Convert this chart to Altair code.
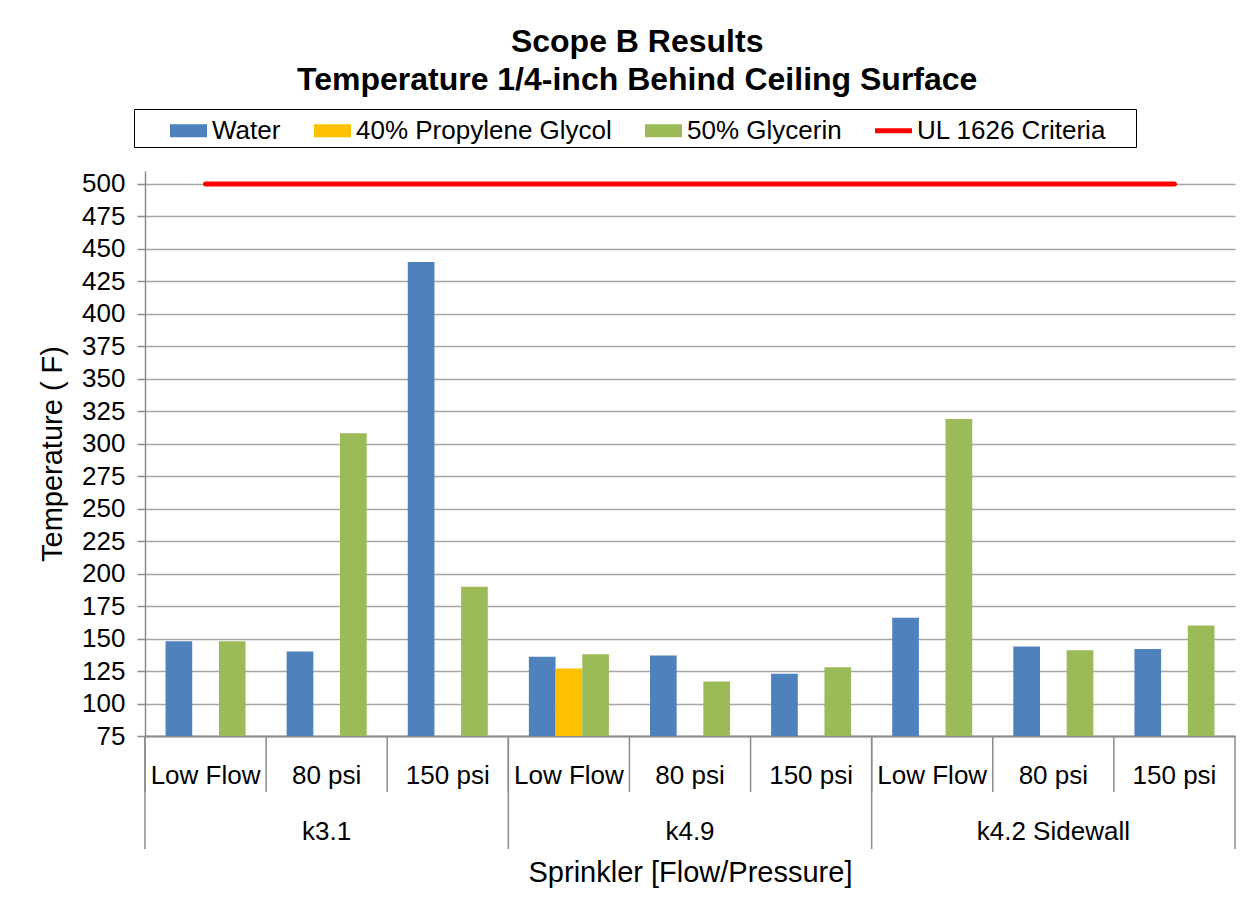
import altair as alt
import pandas as pd

# ---------------- data ----------------
groups = ["k3.1", "k4.9", "k4.2 Sidewall"]
subcats = ["Low Flow", "80 psi", "150 psi"]
series = ["Water", "40% Propylene Glycol", "50% Glycerin"]
criteria_label = "UL 1626 Criteria"

water = [148, 140, 440, 136, 137, 123, 166, 144, 142]
propylene = [None, None, None, 127, None, None, None, None, None]
glycerin = [148, 308, 190, 138, 117, 128, 319, 141, 160]
criteria = [500, 500, 500, 500, 500, 500, 500, 500, 500]

y_ticks = [75, 100, 125, 150, 175, 200, 225, 250, 275, 300, 325, 350, 375,
           400, 425, 450, 475, 500]
y_min, y_max = 75, 510

colors = ["#4F81BD", "#FFC000", "#9BBB59", "#FF0000"]

# ---------------- tables ----------------
cats = [f"{g}|{s}" for g in groups for s in subcats]

rows = []
for i, c in enumerate(cats):
    for name, vals in zip(series, [water, propylene, glycerin]):
        if vals[i] is not None:
            rows.append({"cat": c, "series": name, "value": vals[i]})
df_bars = pd.DataFrame(rows)
df_line = pd.DataFrame({"cat": cats, "value": criteria})
df_cats = pd.DataFrame({"cat": cats})
df_gstart = pd.DataFrame({"cat": [f"{g}|{subcats[0]}" for g in groups]})
df_gend = pd.DataFrame({"cat": [cats[-1]]})
df_glabel = pd.DataFrame({"cat": [f"{g}|{subcats[1]}" for g in groups], "grp": groups})

W, H = 1090, 565
FONT = "Liberation Sans"
GRAY = "#8C8C8C"

xscale = alt.Scale(domain=cats, paddingInner=0, paddingOuter=0)
yscale = alt.Scale(domain=[y_min, y_max], nice=False, zero=False)

x_axis = alt.Axis(
    labelExpr="split(datum.value, '|')[1]",
    labelAngle=0, labelFontSize=26, labelFont=FONT, labelColor="black",
    labelPadding=26, ticks=False, domainColor=GRAY, domainWidth=2,
    labelOverlap=False,
    title="Sprinkler [Flow/Pressure]", titleFontSize=29, titleFont=FONT,
    titleFontWeight="normal", titleColor="black", titleY=145,
    titleBaseline="alphabetic",
)
y_axis = alt.Axis(
    values=y_ticks, tickCount=len(y_ticks) + 2,
    labelFontSize=26, labelFont=FONT, labelColor="black",
    labelOverlap=False,
    tickSize=8, tickColor=GRAY, tickWidth=1.5, domainColor=GRAY, domainWidth=1.5,
    gridColor="#A6A6A6", gridWidth=1.5, labelPadding=12,
    title="Temperature ( F)", titleFontSize=29, titleFont=FONT,
    titleFontWeight="normal", titleColor="black", titlePadding=14,
)

sym_expr = (f"datum.value === '{criteria_label}' ? 'M-1,-0.13H1V0.13H-1Z' "
            f": 'M-1,-0.35H1V0.35H-1Z'")

legend = alt.Legend(
    orient="none", legendX=-11, legendY=-62, direction="horizontal", columns=4,
    title="x", titleOrient="right", titleOpacity=0, titleFontSize=20,
    titlePadding=15, titleFont=FONT,
    labelFontSize=26, labelFont=FONT, labelColor="black",
    labelLimit=400, labelOffset=5, symbolOffset=33, symbolSize=1369,
    symbolType={"expr": sym_expr}, columnPadding=0,
    padding=3, strokeColor="black", fillColor="white", symbolStrokeWidth=0,
)

bars = alt.Chart(df_bars).mark_bar().encode(
    x=alt.X("cat:N", scale=xscale, axis=x_axis),
    xOffset=alt.XOffset("series:N", scale=alt.Scale(domain=series, paddingInner=0, paddingOuter=0.77)),
    y=alt.Y("value:Q", scale=yscale, axis=y_axis),
    y2=alt.datum(y_min),
    color=alt.Color("series:N", scale=alt.Scale(domain=series + [criteria_label], range=colors),
                    legend=legend),
)

line = alt.Chart(df_line).mark_line(color="#FF0000", strokeWidth=5, strokeCap="round").encode(
    x=alt.X("cat:N", scale=xscale),
    y=alt.Y("value:Q", scale=yscale),
)

sub_rules = alt.Chart(df_cats).mark_rule(color=GRAY, strokeWidth=1.5).encode(
    x=alt.X("cat:N", scale=xscale, bandPosition=0),
    y=alt.value(H), y2=alt.value(H + 56),
)
grp_rules = alt.Chart(df_gstart).mark_rule(color=GRAY, strokeWidth=1.5).encode(
    x=alt.X("cat:N", scale=xscale, bandPosition=0),
    y=alt.value(H), y2=alt.value(H + 113),
)
end_rule = alt.Chart(df_gend).mark_rule(color=GRAY, strokeWidth=1.5).encode(
    x=alt.X("cat:N", scale=xscale, bandPosition=1),
    y=alt.value(H), y2=alt.value(H + 113),
)
grp_text = alt.Chart(df_glabel).mark_text(
    fontSize=26, font=FONT, color="black", baseline="alphabetic", align="center"
).encode(
    x=alt.X("cat:N", scale=xscale),
    y=alt.value(H + 104),
    text="grp:N",
)

chart = alt.layer(bars, line, sub_rules, grp_rules, end_rule, grp_text).properties(
    width=W, height=H,
    padding={"left": 30, "top": 17, "right": 5, "bottom": 5},
    title=alt.TitleParams(
        text=["Scope B Results", "Temperature 1/4-inch Behind Ceiling Surface"],
        fontSize=32, fontWeight="bold", font=FONT, color="black",
        lineHeight=38, anchor="middle", offset=12, frame="bounds",
    ),
    background="white",
).configure_view(strokeWidth=0)

chart.save("out.html", embed_options={"renderer": "svg", "actions": False})
